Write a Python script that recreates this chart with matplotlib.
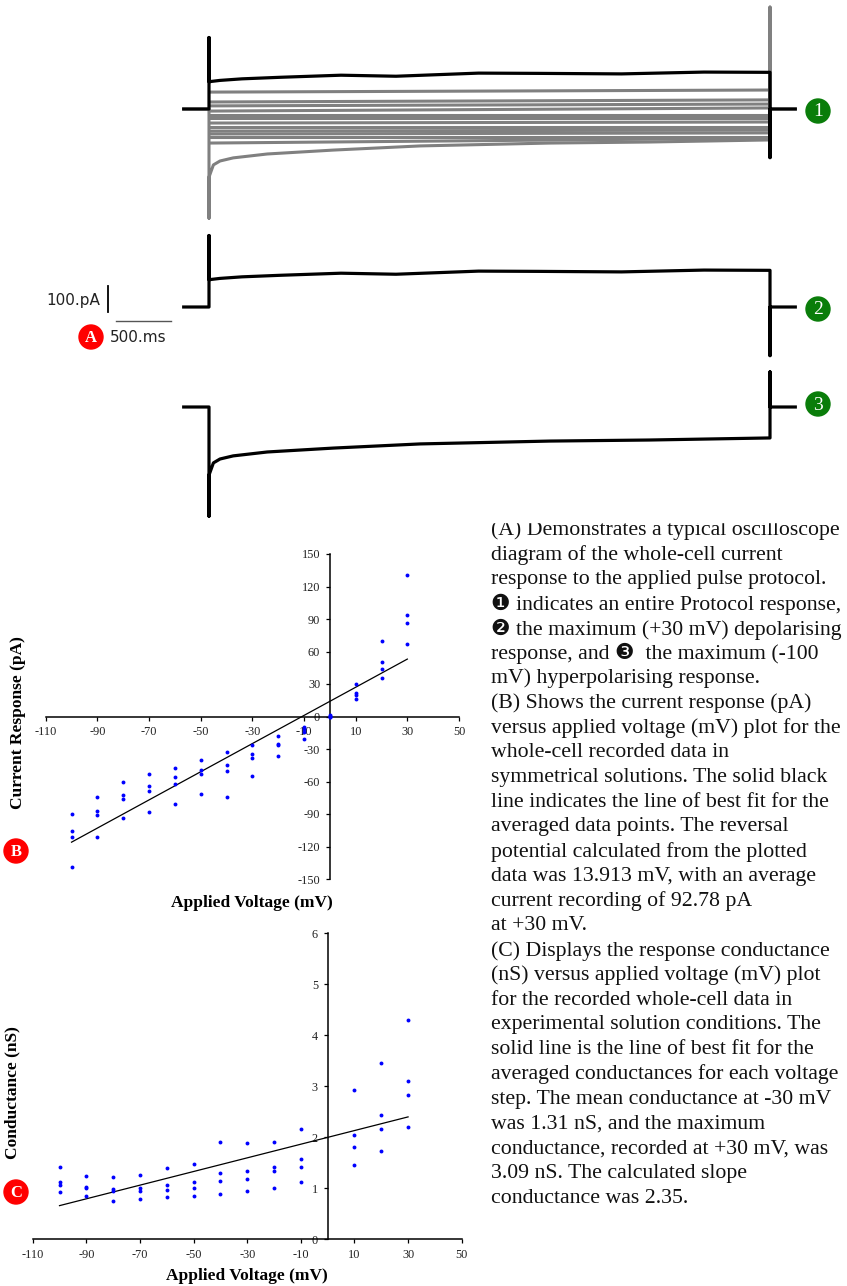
import matplotlib
matplotlib.use("Agg")
import matplotlib.pyplot as plt
from matplotlib.patches import Circle, Rectangle

plt.rcParams['axes.unicode_minus'] = False

# ---------------- data ----------------
# Panel A: oscilloscope traces (time in ms, current in pA relative to holding baseline)
pulse_end_ms = 5100
baseline_ms = 230

# +30 mV (maximum depolarising) response
t_depol = [0, 100, 300, 650, 1200, 1700, 2450, 3000, 3750, 4500, 5100]
i_depol = [105, 110, 116, 122, 130, 126, 138, 137, 135, 142, 141]
depol_on_spike = 275
depol_off_spike = -187

# -100 mV (maximum hyperpolarising) response
t_hyper = [0, 40, 100, 220, 530, 1130, 1920, 3100, 4000, 5100]
i_hyper = [-262, -215, -200, -188, -173, -158, -142, -131, -127, -119]
hyper_on_spike = -420
hyper_off_spike = 135
hyper_off_spike_protocol = 392

# intermediate protocol steps (grey traces), mV: +20 ... -90
gray_mv = [20, 10, 0, -10, -20, -30, -40, -50, -60, -70, -80, -90]
gray_start = [65, 27, 12, -8, -23, -35, -54, -69, -85, -96, -108, -131]
gray_end = [73, 35, 19, 4, -23, -35, -50, -69, -81, -92, -108, -112]

scale_pA = 100
scale_ms = 500

# Panel B: current response (pA) vs applied voltage (mV)
b_voltage = [-100, -90, -80, -70, -60, -50, -40, -30, -20, -10, 0, 10, 20, 30]
b_current = [
    [-90, -105.5, -111, -139],
    [-74, -87, -91, -111],
    [-60, -72.6, -75.7, -94],
    [-53, -64, -68.6, -88.6],
    [-47.4, -56, -62, -81],
    [-40.6, -49, -53, -71.7],
    [-33, -44.6, -50.5, -74],
    [-26.5, -34.8, -38, -54.8],
    [-17.8, -25, -26, -36],
    [-9.5, -11.7, -14, -20.6],
    [1, 0.5, 0, 0],
    [30, 22, 19.7, 16],
    [69.5, 50, 44.3, 35.7],
    [130.5, 93.5, 86.5, 66.8],
]
b_fit_x = [-100, 30]
b_fit_y = [-116, 53]

# Panel C: conductance (nS) vs applied voltage (mV)
c_voltage = [-100, -90, -80, -70, -60, -50, -40, -30, -20, -10, 10, 20, 30]
c_conductance = [
    [1.42, 1.12, 1.07, 0.92],
    [1.24, 1.03, 1.00, 0.85],
    [1.22, 0.98, 0.95, 0.76],
    [1.27, 1.01, 0.95, 0.79],
    [1.39, 1.06, 0.97, 0.82],
    [1.48, 1.12, 1.00, 0.85],
    [1.90, 1.30, 1.15, 0.88],
    [1.88, 1.33, 1.18, 0.94],
    [1.90, 1.42, 1.33, 1.00],
    [2.17, 1.57, 1.42, 1.12],
    [2.92, 2.05, 1.81, 1.45],
    [3.46, 2.44, 2.17, 1.73],
    [4.30, 3.10, 2.83, 2.20],
]
c_fit_x = [-100, 30]
c_fit_y = [0.66, 2.40]

x_ticks = list(range(-110, 51, 20))
b_y_ticks = list(range(-150, 151, 30))
c_y_ticks = list(range(0, 7))

caption_lines = [
    "(A) Demonstrates a typical oscilloscope",
    "diagram of the whole-cell current",
    "response to the applied pulse protocol.",
    "\u2776 indicates an entire Protocol response,",
    "\u2777 the maximum (+30 mV) depolarising",
    "response, and \u2778  the maximum (-100",
    "mV) hyperpolarising response.",
    "(B) Shows the current response (pA)",
    "versus applied voltage (mV) plot for the",
    "whole-cell recorded data in",
    "symmetrical solutions. The solid black",
    "line indicates the line of best fit for the",
    "averaged data points. The reversal",
    "potential calculated from the plotted",
    "data was 13.913 mV, with an average",
    "current recording of 92.78 pA",
    "at +30 mV.",
    "(C) Displays the response conductance",
    "(nS) versus applied voltage (mV) plot",
    "for the recorded whole-cell data in",
    "experimental solution conditions. The",
    "solid line is the line of best fit for the",
    "averaged conductances for each voltage",
    "step. The mean conductance at -30 mV",
    "was 1.31 nS, and the maximum",
    "conductance, recorded at +30 mV, was",
    "3.09 nS. The calculated slope",
    "conductance was 2.35.",
]

# ---------------- figure ----------------
W, H = 847, 1286
fig = plt.figure(figsize=(W / 100, H / 100), dpi=100)
SERIF = ['Liberation Serif', 'DejaVu Serif']

# ---- Panel A ----
MS_PER_PX = scale_ms / 55.0
PA_PER_PX = scale_pA / 26.0
onset_px = 209
topA_px = 530
axA = fig.add_axes([0, 1 - topA_px / H, 1, topA_px / H])
axA.set_xlim(-onset_px * MS_PER_PX, (W - onset_px) * MS_PER_PX)
axA.set_ylim(-topA_px * PA_PER_PX, 0)
axA.axis('off')

base1 = -109 * PA_PER_PX
base2 = -307 * PA_PER_PX
base3 = -407 * PA_PER_PX


def pulse(t, i, on_spike, off_spike):
    tt = [-baseline_ms, 0, 0] + list(t) + [pulse_end_ms, pulse_end_ms, pulse_end_ms + baseline_ms]
    ii = [0, 0, on_spike] + list(i) + [off_spike, 0, 0]
    return tt, ii


GRAY = '#808080'
# trace 1: full protocol
for s, e in zip(gray_start, gray_end):
    axA.plot([0, pulse_end_ms], [base1 + s, base1 + e], color=GRAY, lw=2.2,
             solid_capstyle='butt', zorder=2)
tt, ii = pulse(t_hyper, i_hyper, hyper_on_spike, hyper_off_spike_protocol)
axA.plot(tt, [base1 + v for v in ii], color=GRAY, lw=2.2, zorder=2)
axA.plot([0, 0], [base1 + hyper_on_spike, base1], color=GRAY, lw=1.2, zorder=3)
tt, ii = pulse(t_depol, i_depol, depol_on_spike, depol_off_spike)
axA.plot(tt, [base1 + v for v in ii], color='black', lw=2.3, zorder=4)
# trace 2: +30 mV
axA.plot(tt, [base2 + v for v in ii], color='black', lw=2.3, zorder=4)
# trace 3: -100 mV
tt, ii = pulse(t_hyper, i_hyper, hyper_on_spike, hyper_off_spike)
axA.plot(tt, [base3 + v for v in ii], color='black', lw=2.3, zorder=4)

# scale bars
sb_t = -918
sb_y = -286 * PA_PER_PX
axA.plot([sb_t, sb_t], [sb_y, sb_y - scale_pA], color='black', lw=1.3)
hb_t = -845
hb_y = -321 * PA_PER_PX
axA.plot([hb_t, hb_t + scale_ms], [hb_y, hb_y], color='#555555', lw=1.0)

# ---- Panel B ----
axB = fig.add_axes([45.7 / W, 1 - 879 / H, 413.3 / W, 325 / H])
axB.set_xlim(-110, 50)
axB.set_ylim(-150, 150)
for v, vals in zip(b_voltage, b_current):
    axB.plot([v] * len(vals), vals, 'o', color='#0000ff', ms=2.8, mec='none',
             clip_on=False, zorder=3)
axB.plot(b_fit_x, b_fit_y, color='black', lw=0.9, zorder=2)

# ---- Panel C ----
axC = fig.add_axes([32.7 / W, 1 - 1239.3 / H, 429 / W, 306 / H])
axC.set_xlim(-110, 50)
axC.set_ylim(0, 6)
for v, vals in zip(c_voltage, c_conductance):
    axC.plot([v] * len(vals), vals, 'o', color='#0000ff', ms=2.8, mec='none',
             clip_on=False, zorder=3)
axC.plot(c_fit_x, c_fit_y, color='black', lw=0.9, zorder=2)

for ax, yt, fs in ((axB, b_y_ticks, 8.8), (axC, c_y_ticks, 8.8)):
    ax.spines['left'].set_position(('data', 0))
    ax.spines['bottom'].set_position(('data', 0))
    ax.spines['top'].set_visible(False)
    ax.spines['right'].set_visible(False)
    ax.spines['left'].set_linewidth(1.1)
    ax.spines['bottom'].set_linewidth(1.1)
    ax.set_xticks(x_ticks)
    ax.set_yticks(yt)
    ax.set_xticklabels([str(x) for x in x_ticks], family=SERIF, fontsize=fs, color='#222222')
    ax.set_yticklabels([str(y) for y in yt], family=SERIF, fontsize=fs, color='#222222')
    ax.tick_params(direction='out', length=3, width=0.9, pad=4)
    ax.patch.set_alpha(0)

# ---- overlay (pixel coordinates) ----
ov = fig.add_axes([0, 0, 1, 1])
ov.set_xlim(0, W)
ov.set_ylim(H, 0)
ov.axis('off')
ov.patch.set_alpha(0)
ov.set_zorder(10)

ov.text(100, 301, "100.pA", ha='right', va='center', fontsize=11,
        family='DejaVu Sans', color='#222222')
ov.text(110, 337, "500.ms", ha='left', va='center', fontsize=11,
        family='DejaVu Sans', color='#222222')

for (cx, cy), lab in zip([(818, 111), (818, 309), (818, 404)], ['1', '2', '3']):
    ov.add_patch(Circle((cx, cy), 12, color='#0a7d0a', zorder=5))
    ov.text(cx, cy + 1, lab, ha='center', va='center', color='white',
            fontsize=14, family=SERIF, zorder=6)

for (cx, cy), lab in zip([(91, 337), (16, 851), (16, 1192)], ['A', 'B', 'C']):
    ov.add_patch(Circle((cx, cy), 12, color='#ff0000', zorder=5))
    ov.text(cx, cy + 1, lab, ha='center', va='center', color='white',
            fontsize=12, family=SERIF, fontweight='bold', zorder=6)

ov.text(18, 723, "Current Response (pA)", rotation=90, ha='center', va='center',
        fontsize=12.5, family=SERIF, fontweight='bold')
ov.text(252, 903, "Applied Voltage (mV)", ha='center', va='center',
        fontsize=12.5, family=SERIF, fontweight='bold')
ov.text(12, 1093, "Conductance (nS)", rotation=90, ha='center', va='center',
        fontsize=12.5, family=SERIF, fontweight='bold')
ov.text(247, 1276, "Applied Voltage (mV)", ha='center', va='center',
        fontsize=12.5, family=SERIF, fontweight='bold')

for k, line in enumerate(caption_lines):
    ov.text(491, 530 + k * 24.75, line, ha='left', va='center', fontsize=15.7,
            family=['Liberation Serif', 'DejaVu Sans'], color='#111111')
# top of the first caption line is clipped in the original
ov.add_patch(Rectangle((480, 500), 367, 21.5, color='white', zorder=20))

fig.savefig("out.png", dpi=100)
